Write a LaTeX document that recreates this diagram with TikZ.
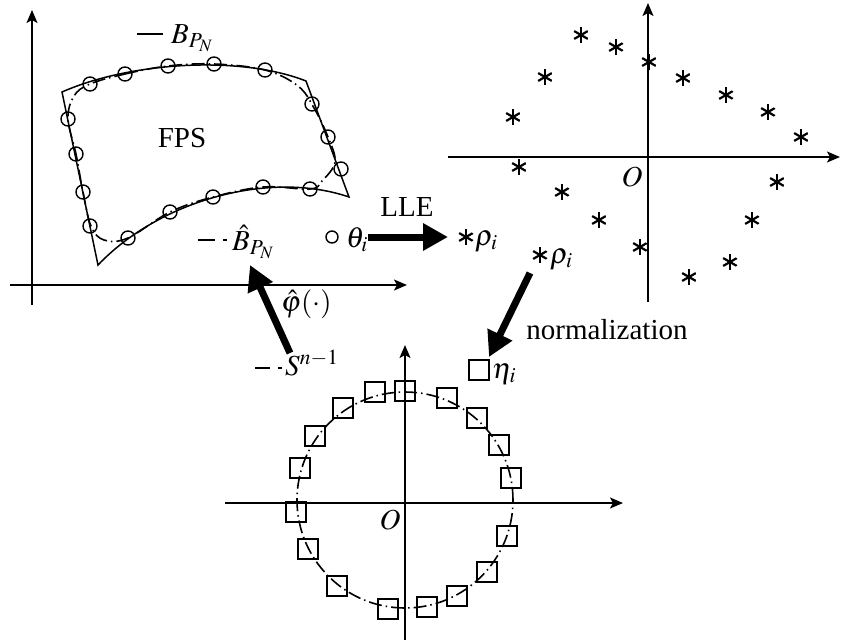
\documentclass[tikz,border=0pt]{standalone}
\usepackage{mathptmx}
\usepackage[no-math]{fontspec}
\setmainfont{Liberation Serif}
\usetikzlibrary{arrows.meta}

\tikzset{
  axis/.style={line width=1.6pt, -{Stealth[length=13pt,width=11pt,inset=3pt]}},
  outline/.style={line width=1.5pt},
  dashdot/.style={line width=1.6pt, dash pattern=on 13pt off 4pt on 1.5pt off 4pt},
  sample/.style={circle, draw, line width=1.4pt, minimum size=14pt, inner sep=0pt},
  small sample/.style={circle, draw, line width=1.4pt, minimum size=12pt, inner sep=0pt},
  sqnode/.style={rectangle, draw, line width=1.4pt, minimum size=20pt, inner sep=0pt},
  astnode/.style={circle, minimum size=16pt, inner sep=0pt,
    path picture={
      \foreach \a in {90,30,150}
        \draw[line width=2.2pt]
          ([shift={(\a:8pt)}]path picture bounding box.center) --
          ([shift={(\a+180:8pt)}]path picture bounding box.center);
    }},
  lbl/.style={inner sep=0pt, font=\fontsize{29}{34}\selectfont},
  bigarrow/.style={line width=7pt, -{Triangle[length=25pt,width=26pt]}},
}

\begin{document}
\begin{tikzpicture}[x=1pt,y=-1pt]
\useasboundingbox (0,0) rectangle (841,643);

% ---------- feature space (top left) ----------
\coordinate (ax1l) at (10,285);   \coordinate (ax1r) at (407,285);
\coordinate (ax1b) at (32,305);   \coordinate (ax1t) at (32,10);
\draw[axis] (ax1l) -- (ax1r);
\draw[axis] (ax1b) -- (ax1t);

% boundary of the FPS region
\coordinate (c1) at (62,92);  \coordinate (c2) at (306,81);
\coordinate (c3) at (349,197); \coordinate (c4) at (98,265);
\draw[outline] (c1) .. controls (130,62) and (240,55) .. (c2) -- (c3)
  .. controls (270,170) and (160,200) .. (c4) -- cycle;

% estimated boundary
\draw[dashdot] plot[smooth cycle, tension=0.6] coordinates {
  (90,84) (125,74) (168,66) (214,64) (265,70) (298,86) (314,108) (328,137)
  (335,162) (322,181) (310,189) (263,187) (213,197) (170,212) (128,238)
  (104,240) (91,226) (83,192) (76,154) (68,119) (74,96)};

% samples on the boundary
\foreach \p [count=\k] in {(90,84),(125,74),(168,66),(214,64),(265,70),
  (312,104),(328,137),(341,169),(310,189),(263,187),(213,197),(170,212),
  (128,238),(90,226),(83,192),(76,154),(68,119)}
  \node[sample] (s\k) at \p {};

\node[lbl] (fps) at (182,138) {FPS};

% legend
\coordinate (lg1a) at (137,34); \coordinate (lg1b) at (163,34);
\draw[outline] (lg1a) -- (lg1b);
\node[lbl, anchor=base west] (bpn) at (171,43) {$B_{P_N}$};
\coordinate (lg2a) at (198,240); \coordinate (lg2b) at (215,240);
\coordinate (lg2c) at (223,240); \coordinate (lg2d) at (227,240);
\draw[outline] (lg2a) -- (lg2b);
\draw[outline] (lg2c) -- (lg2d);
\node[lbl, anchor=base west] (bhat) at (232,250) {$\hat{B}_{P_N}$};

% ---------- LLE step ----------
\node[small sample] (theta) at (332,237) {};
\node[lbl, anchor=base west] (thetal) at (346,247) {$\theta_i$};
\coordinate (lleS) at (368,237); \coordinate (lleE) at (448,237);
\draw[bigarrow] (lleS) -- (lleE);
\node[lbl] (lle) at (407,207) {LLE};
\node[astnode] (a1) at (466,237) {};
\node[lbl, anchor=base west] (rho1) at (475,245) {$\rho_i$};

% ---------- embedding (top right) ----------
\coordinate (ax2l) at (448,157);  \coordinate (ax2r) at (840,157);
\coordinate (ax2b) at (648,302);  \coordinate (ax2t) at (648,3);
\draw[axis] (ax2l) -- (ax2r);
\draw[axis] (ax2b) -- (ax2t);
\node[lbl] (o2) at (632,177) {$O$};
\foreach \p [count=\k] in {(581,35),(616,47),(649,62),(545,77),(683,78),
  (726,95),(768,112),(513,117),(801,137),(519,167),(777,182),(562,192),
  (752,220),(599,220),(640,247),(730,262),(689,277)}
  \node[astnode] (e\k) at \p {};

% ---------- normalization step ----------
\node[astnode] (a2) at (540,255) {};
\node[lbl, anchor=base west] (rho2) at (550,263) {$\rho_i$};
\coordinate (nS) at (530,273); \coordinate (nE) at (489,357);
\draw[bigarrow] (nS) -- (nE);
\node[lbl] (norm) at (607,330) {normalization};
\node[sqnode] (eta) at (479,370) {};
\node[lbl, anchor=base west] (etal) at (492,378) {$\eta_i$};

% ---------- unit sphere (bottom) ----------
\coordinate (ax3l) at (225,503);  \coordinate (ax3r) at (623,503);
\coordinate (ax3b) at (405,640);  \coordinate (ax3t) at (405,345);
\draw[axis] (ax3l) -- (ax3r);
\draw[axis] (ax3b) -- (ax3t);
\node[lbl] (o3) at (390,520) {$O$};
\coordinate (sc) at (405,500);
\draw[dashdot] (sc) circle[radius=108pt];
\foreach \p [count=\k] in {(405,391),(375,392),(343,408),(315,436),(300,468),
  (296,512),(308,549),(337,586),(388,609),(427,607),(457,596),(487,572),
  (507,536),(511,478),(499,445),(477,418),(447,398)}
  \node[sqnode] (q\k) at \p {};

% legend and inverse map
\coordinate (lg3a) at (255,368); \coordinate (lg3b) at (270,368);
\coordinate (lg3c) at (278,368); \coordinate (lg3d) at (282,368);
\draw[outline] (lg3a) -- (lg3b);
\draw[outline] (lg3c) -- (lg3d);
\node[lbl, anchor=base west] (sn) at (285,375) {$S^{n-1}$};
\coordinate (pS) at (290,353); \coordinate (pE) at (250,265);
\draw[bigarrow] (pS) -- (pE);
\node[lbl, anchor=base west] (phi) at (281,311) {$\hat{\varphi}(\cdot)$};
\end{tikzpicture}
\end{document}
